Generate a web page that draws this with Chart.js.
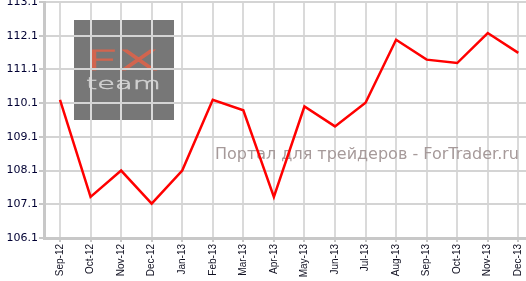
<!DOCTYPE html>
<html>
<head>
<meta charset="utf-8">
<script src="https://cdn.jsdelivr.net/npm/chart.js@4.4.1/dist/chart.umd.min.js"></script>
<style>
html,body{margin:0;padding:0;background:#fff;}
#wrap{width:526px;height:281px;position:relative;}
</style>
</head>
<body>
<div id="wrap"><canvas id="c" width="526" height="281"></canvas></div>
<script>
const months = ["Sep-12","Oct-12","Nov-12","Dec-12","Jan-13","Feb-13","Mar-13","Apr-13","May-13","Jun-13","Jul-13","Aug-13","Sep-13","Oct-13","Nov-13","Dec-13"];
const values = [110.2,107.32,108.1,107.12,108.1,110.2,109.89,107.32,110.0,109.41,110.11,111.98,111.39,111.29,112.18,111.59];
const yTicks = [106.1,107.1,108.1,109.1,110.1,111.1,112.1,113.1];
const watermark = "Портал для трейдеров - ForTrader.ru";
const logoTop = "FX";
const logoBottom = "team";

const bgPlugin = {
  id: 'bg',
  beforeDraw(chart) {
    const ctx = chart.ctx;
    ctx.save();
    ctx.fillStyle = '#777777';
    ctx.fillRect(74, 20, 100, 100);
    ctx.fillStyle = '#d2654f';
    ctx.strokeStyle = '#d2654f';
    ctx.lineWidth = 1.2;
    ctx.font = '200 27px "DejaVu Sans"';
    ctx.textBaseline = 'alphabetic';
    ctx.translate(85, 70);
    ctx.scale(2.15, 1);
    ctx.fillText(logoTop, 0, 0);
    ctx.strokeText(logoTop, 0, 0);
    ctx.restore();
    ctx.save();
    ctx.fillStyle = '#d0d0d0';
    ctx.strokeStyle = '#d0d0d0';
    ctx.lineWidth = 0.5;
    ctx.font = '200 16px "DejaVu Sans"';
    ctx.translate(86, 89);
    ctx.scale(1.8, 1);
    ctx.fillText(logoBottom, 0, 0);
    ctx.strokeText(logoBottom, 0, 0);
    ctx.restore();
  },
  beforeDatasetsDraw(chart) {
    const ctx = chart.ctx;
    ctx.save();
    ctx.fillStyle = '#a69a9a';
    ctx.font = '16px "DejaVu Sans"';
    ctx.textAlign = 'right';
    ctx.textBaseline = 'alphabetic';
    ctx.fillText(watermark, 519, 159);
    ctx.restore();
  }
};

new Chart(document.getElementById('c'), {
  type: 'line',
  data: {
    datasets: [{
      data: values.map((v, i) => ({x: i, y: v})),
      borderColor: '#ff0000',
      borderWidth: 2.5,
      pointRadius: 0,
      tension: 0,
      fill: false
    }]
  },
  options: {
    responsive: false,
    animation: false,
    events: [],
    layout: {padding: {top: 2, left: 0, right: 0, bottom: 0}},
    plugins: {legend: {display: false}, tooltip: {enabled: false}},
    scales: {
      x: {
        type: 'linear',
        min: -0.524,
        max: 15.252,
        afterBuildTicks(scale) { scale.ticks = months.map((m, i) => ({value: i})); },
        afterFit(scale) { scale.height = 43; scale.paddingLeft = 0; scale.paddingRight = 0; },
        grid: {color: '#dadada', lineWidth: 2, tickLength: 4, tickColor: '#c8c8c8'},
        border: {color: '#c8c8c8', width: 3},
        ticks: {
          autoSkip: false,
          minRotation: 90,
          maxRotation: 90,
          padding: 2,
          color: '#111122',
          font: {family: '"Liberation Sans"', size: 10},
          callback: (v) => months[v]
        }
      },
      y: {
        min: 106.1,
        max: 113.1,
        afterBuildTicks(scale) { scale.ticks = yTicks.map(v => ({value: v})); },
        afterFit(scale) { scale.width = 44; scale.paddingTop = 0; scale.paddingBottom = 0; },
        grid: {color: '#d4d4d4', lineWidth: 2, tickLength: 5, tickColor: '#c8c8c8'},
        border: {color: '#c8c8c8', width: 3},
        ticks: {
          padding: 1,
          color: '#000033',
          font: {family: '"DejaVu Sans"', size: 11},
          callback: (v) => Number(v).toFixed(1)
        }
      }
    }
  },
  plugins: [bgPlugin]
});
</script>
</body>
</html>
